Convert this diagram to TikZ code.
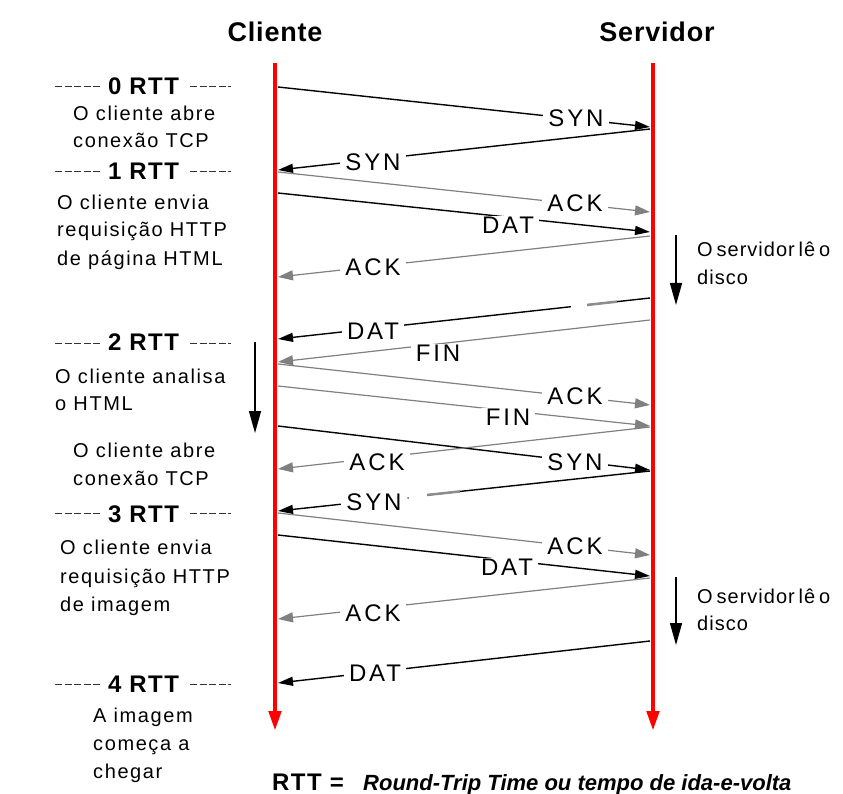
\documentclass[tikz,border=0pt]{standalone}
\usepackage{fontspec}
\setmainfont{Liberation Sans}
\newfontfamily\txtfont[LetterSpace=8]{Liberation Sans}
\newfontfamily\srvfont[LetterSpace=5,WordSpace=0.6]{Liberation Sans}
\newfontfamily\lblfont[LetterSpace=12]{Liberation Sans}
\newfontfamily\ttlfont[LetterSpace=3]{Liberation Sans}
\newfontfamily\rttfont[LetterSpace=6]{Liberation Sans}
\usetikzlibrary{arrows.meta,calc}
\tikzset{
  lifeline/.style={draw=red, line width=4.5pt, -{Triangle[length=20pt,width=12pt]}},
  blk/.style={draw=black, line width=1.4pt, -{Triangle[length=15pt,width=9pt]}},
  gry/.style={draw=black!50, line width=1.2pt, -{Triangle[length=15pt,width=10pt]}},
  lbl/.style={fill=white, inner xsep=5pt, inner ysep=1pt, font=\lblfont\fontsize{24}{28}\selectfont},
  txt/.style={inner sep=0pt, anchor=base west, font=\txtfont\fontsize{20}{24}\selectfont},
  srv/.style={inner sep=0pt, anchor=base west, font=\srvfont\fontsize{20}{24}\selectfont},
  ttl/.style={inner sep=0pt, font=\ttlfont\bfseries\fontsize{27}{32}\selectfont},
  rtt/.style={inner sep=0pt, anchor=base, font=\rttfont\bfseries\fontsize{24}{28}\selectfont},
  dsh/.style={draw=black!80, line width=1pt, dash pattern=on 7pt off 2.5pt},
  proc/.style={draw=black, line width=1.4pt, -{Triangle[length=22pt,width=12pt]}},
}
\begin{document}
\begin{tikzpicture}[x=1pt,y=-1pt]
\useasboundingbox (0,0) rectangle (843,794);
\fill[white] (0,0) rectangle (843,794);

% titles
\node[ttl] (tc) at (275,32) {Cliente};
\node[ttl] (ts) at (657,32) {Servidor};

% lifelines
\coordinate (ct) at (275,63); \coordinate (cb) at (275,731);
\coordinate (st) at (653,63); \coordinate (sb) at (653,731);
\draw[lifeline] (ct) -- (cb);
\draw[lifeline] (st) -- (sb);

% messages
\coordinate (m1a) at (278,87);  \coordinate (m1b) at (650,127);
\coordinate (m2a) at (650,129); \coordinate (m2b) at (278,170);
\coordinate (m3a) at (278,172); \coordinate (m3b) at (650,212);
\coordinate (m4a) at (278,193); \coordinate (m4b) at (650,232);
\coordinate (m5a) at (650,236); \coordinate (m5b) at (278,277);
\coordinate (m6a) at (650,298); \coordinate (m6b) at (278,339);
\coordinate (m7a) at (650,320); \coordinate (m7b) at (278,362);
\coordinate (m8a) at (278,364); \coordinate (m8b) at (650,405);
\coordinate (m9a) at (278,386); \coordinate (m9b) at (650,426);
\coordinate (m10a) at (278,426); \coordinate (m10b) at (650,470);
\coordinate (m11a) at (650,427); \coordinate (m11b) at (278,469);
\coordinate (m12a) at (650,471); \coordinate (m12b) at (278,511);
\coordinate (m13a) at (278,513); \coordinate (m13b) at (650,555);
\coordinate (m14a) at (278,535); \coordinate (m14b) at (650,576);
\coordinate (m15a) at (650,578); \coordinate (m15b) at (278,619);
\coordinate (m16a) at (650,641); \coordinate (m16b) at (278,683);

\draw[blk] (m1a) -- (m1b);
\draw[blk] (m2a) -- (m2b);
\draw[gry] (m3a) -- (m3b);
\draw[blk] (m4a) -- (m4b);
\draw[gry] (m5a) -- (m5b);
\draw[blk] (m6a) -- (m6b);
\draw[gry] (m7a) -- (m7b);
\draw[gry] (m8a) -- (m8b);
\draw[gry] (m9a) -- (m9b);
\draw[blk] (m10a) -- (m10b);
\draw[gry] (m11a) -- (m11b);
\draw[blk] (m12a) -- (m12b);
\draw[gry] (m13a) -- (m13b);
\draw[blk] (m14a) -- (m14b);
\draw[gry] (m15a) -- (m15b);
\draw[blk] (m16a) -- (m16b);

% rendering breaks in two lines
\draw[white, line width=3pt] ($(m6a)!0.169!(m6b)$) -- ($(m6a)!0.212!(m6b)$);
\draw[black!45, line width=2.5pt] ($(m6a)!0.089!(m6b)$) -- ($(m6a)!0.169!(m6b)$);
\draw[white, line width=3pt] ($(m12a)!0.599!(m12b)$) -- ($(m12a)!0.656!(m12b)$);
\draw[black!45, line width=2.5pt] ($(m12a)!0.511!(m12b)$) -- ($(m12a)!0.599!(m12b)$);

% labels
\node[lbl] (l1) at (576,118) {SYN};
\node[lbl] (l2) at (373,162) {SYN};
\node[lbl] (l3) at (575,203) {ACK};
\node[lbl] (l4) at (508,225) {DAT};
\node[lbl] (l5) at (373,267) {ACK};
\node[lbl] (l6) at (373,331) {DAT};
\node[lbl] (l7) at (438,353) {FIN};
\node[lbl] (l8) at (575,396) {ACK};
\node[lbl] (l9) at (508,417) {FIN};
\node[lbl] (l10) at (575,462) {SYN};
\node[lbl] (l11) at (377,462) {ACK};
\node[lbl] (l12) at (374,502) {SYN};
\node[lbl] (l13) at (575,546) {ACK};
\node[lbl] (l14) at (507,567) {DAT};
\node[lbl] (l15) at (373,613) {ACK};
\node[lbl] (l16) at (375,673) {DAT};
\fill[black!60] (408,498) circle (1pt);

% RTT markers
\node[rtt] (r0) at (143.5,95) {0 RTT};
\node[rtt] (r1) at (143.5,180) {1 RTT};
\node[rtt] (r2) at (143.5,350) {2 RTT};
\node[rtt] (r3) at (143.5,522) {3 RTT};
\node[rtt] (r4) at (143.5,692) {4 RTT};
\foreach \yy/\nm in {87/0,172/1,343/2,513/3,684/4}{
  \coordinate (dl\nm a) at (55,\yy); \coordinate (dl\nm b) at (100,\yy);
  \coordinate (dr\nm a) at (190,\yy); \coordinate (dr\nm b) at (231,\yy);
  \draw[dsh] (dl\nm a) -- (dl\nm b);
  \draw[dsh] (dr\nm a) -- (dr\nm b);
}

% client texts
\node[txt] (a1) at (73,121) {O cliente abre};
\node[txt] (a2) at (73,148) {conexão TCP};
\node[txt] (b1) at (57,210) {O cliente envia};
\node[txt] (b2) at (57,237) {requisição HTTP};
\node[txt] (b3) at (57,266) {de página HTML};
\node[txt] (c1) at (55,383) {O cliente analisa};
\node[txt] (c2) at (55,410) {o HTML};
\node[txt] (d1) at (73,457) {O cliente abre};
\node[txt] (d2) at (73,485) {conexão TCP};
\node[txt] (e1) at (60,554) {O cliente envia};
\node[txt] (e2) at (60,583) {requisição HTTP};
\node[txt] (e3) at (60,611) {de imagem};
\node[txt] (f1) at (93,722) {A imagem};
\node[txt] (f2) at (93,750) {começa a};
\node[txt] (f3) at (93,778) {chegar};

% server texts
\node[srv] (s1) at (697,257) {O servidor lê o};
\node[srv] (s2) at (697,284) {disco};
\node[srv] (s3) at (697,603) {O servidor lê o};
\node[srv] (s4) at (697,630) {disco};

% processing arrows
\coordinate (pa1) at (255,342); \coordinate (pb1) at (255,433);
\coordinate (pa2) at (676,235); \coordinate (pb2) at (676,305);
\coordinate (pa3) at (676,577); \coordinate (pb3) at (676,645);
\draw[proc] (pa1) -- (pb1);
\draw[proc] (pa2) -- (pb2);
\draw[proc] (pa3) -- (pb3);

% caption
\node[rtt, anchor=base west] (cap1) at (272,790) {RTT =};
\node[inner sep=0pt, anchor=base west, font=\bfseries\itshape\fontsize{22}{26}\selectfont] (cap2) at (363,790) {Round-Trip Time ou tempo de ida-e-volta};
\end{tikzpicture}
\end{document}
